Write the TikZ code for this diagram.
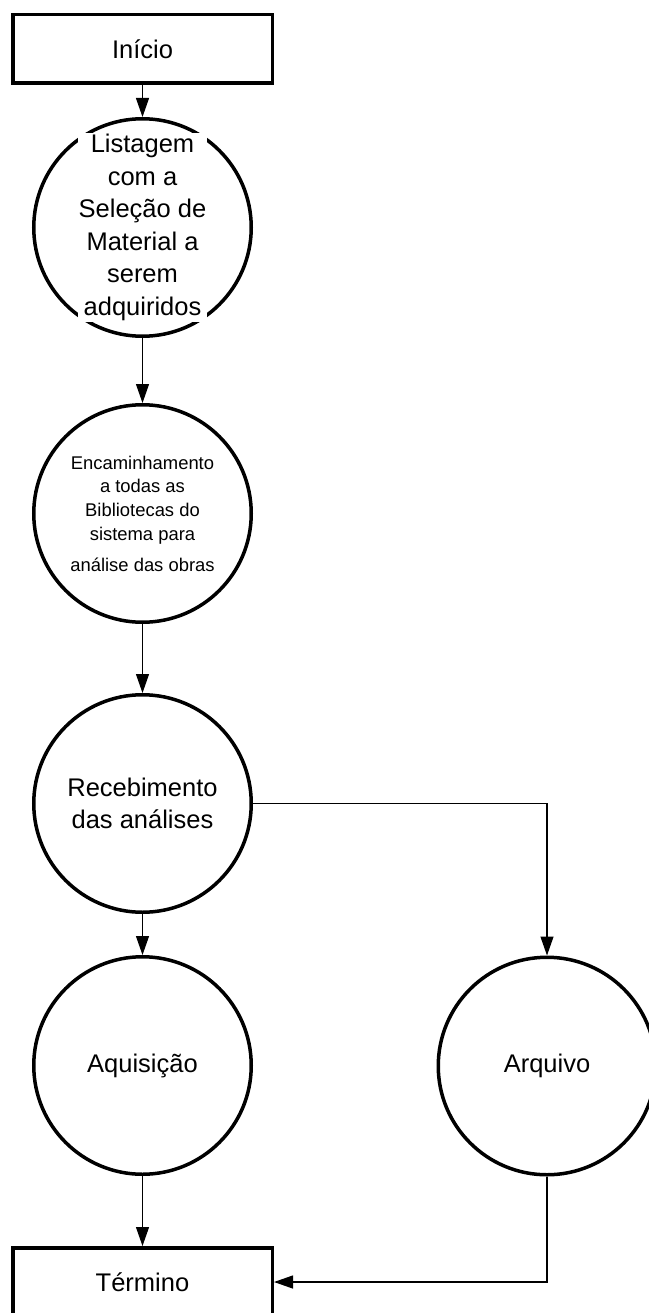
\documentclass[tikz,border=0pt]{standalone}
\usepackage{fontspec}
\setmainfont{Liberation Sans}
\usepackage{tikz}
\usetikzlibrary{arrows.meta,positioning}

\begin{document}
\begin{tikzpicture}[
    x=1pt, y=1pt,
    font=\fontsize{25.5}{32.5}\selectfont,
    node distance=32pt,
    terminal/.style={rectangle, draw, line width=3.5pt, minimum width=259.5pt, minimum height=68.5pt, inner sep=0pt, align=center},
    proc/.style={circle, draw, line width=3.5pt, minimum size=217.5pt, inner sep=0pt, align=center},
    textbg/.style={fill=white, inner sep=1pt, align=center},
    small/.style={font=\fontsize{18.4}{23.7}\selectfont},
    arrow/.style={-{Triangle[length=19pt, width=13pt]}, line width=1.2pt}
]
    % page frame
    \useasboundingbox (0,0) rectangle (648,-1313);

    % --- Main column ---
    \node[terminal] (inicio) at (142.5,-49) {Início};

    \node[proc, below=32pt of inicio] (lista) {};
    \node[textbg] (listatxt) at (lista.center) {Listagem\\com a\\Seleção de\\Material a\\serem\\adquiridos};

    \node[proc, small, below=65pt of lista] (enc) {Encaminhamento\\a todas as\\Bibliotecas do\\sistema para\\[7.3pt]análise das obras};

    \node[proc, below=69pt of enc] (rec) {Recebimento\\das análises};

    \node[proc, below=41pt of rec] (aqu) {Aquisição};

    \node[terminal, below=70pt of aqu] (fim) {Término};

    % --- Right branch ---
    \node[proc] (arq) at (547,-1066) {Arquivo};

    % Connectors
    \draw[arrow] (inicio) -- (lista);
    \draw[arrow] (lista) -- (enc);
    \draw[arrow] (enc) -- (rec);
    \draw[arrow] (rec) -- (aqu);
    \draw[arrow] (aqu) -- (fim);
    \draw[arrow] (rec.east) -| (arq.north);
    \draw[arrow] (arq.south) |- (fim.east);

\end{tikzpicture}
\end{document}
